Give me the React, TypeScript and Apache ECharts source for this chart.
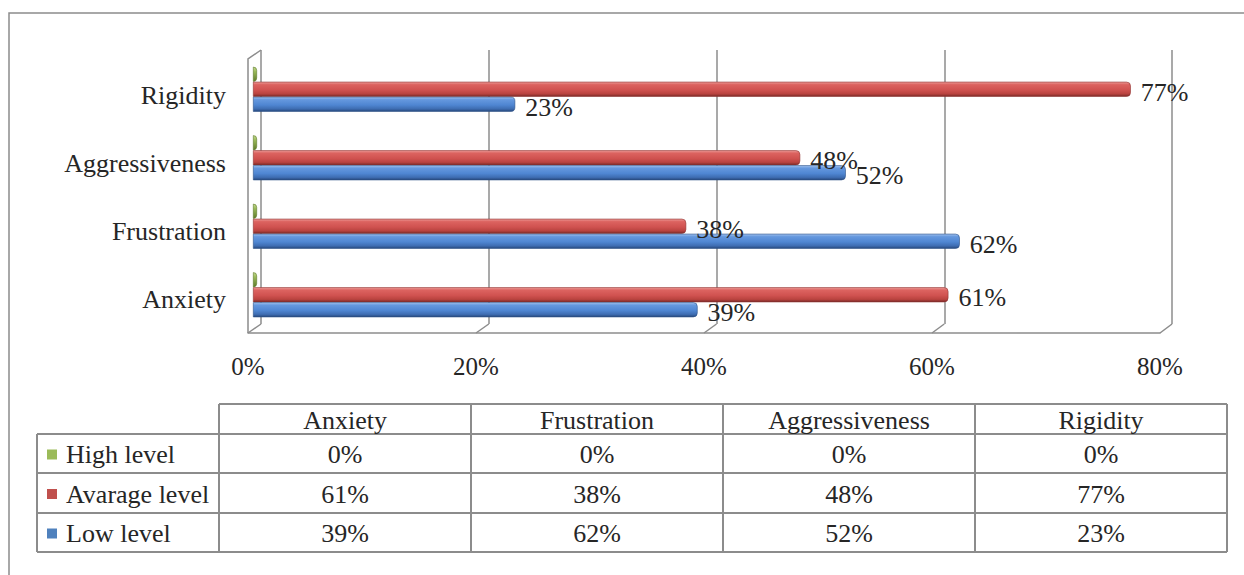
import React, { useEffect, useRef } from 'react';
import * as echarts from 'echarts';

// Survey results: share of respondents per level, by personality trait
const categories = ['Anxiety', 'Frustration', 'Aggressiveness', 'Rigidity'];
const seriesNames = ['High level', 'Avarage level', 'Low level'];
const highLevel = [0, 0, 0, 0];
const averageLevel = [61, 38, 48, 77];
const lowLevel = [39, 62, 52, 23];
const axisMin = 0;
const axisMax = 80;
const axisStep = 20;

const FONT = "'Liberation Serif', 'Times New Roman', serif";
const TEXT = '#262626';
const LINE = '#8c8c8c';
const SWATCH = ['#9BBB59', '#C0504D', '#4F81BD'];

// Pseudo-3D box: back wall and front floor edge
const WALL = { left: 261, right: 1172, top: 50, bottom: 324 };
const FRONT = { left: 248, right: 1160, bottom: 333 };
const BARS = { left: 253, right: 1165, top: 55, height: 274 };
const LABELS = { top: 61, height: 273 };

// Data table below the plot
const TABLE = {
  legendLeft: 37,
  left: 219,
  right: 1227,
  top: 404,
  headerBottom: 434,
  rowBottoms: [473, 513, 552],
};

const grad = (stops: [number, string][]) =>
  new echarts.graphic.LinearGradient(
    0, 0, 0, 1,
    stops.map(([offset, color]) => ({ offset, color }))
  );

const fills = [
  grad([[0, '#C5DA92'], [0.3, '#9BBB59'], [1, '#5E7A2A']]),
  grad([[0, '#EC9B98'], [0.18, '#DC6360'], [0.55, '#D05250'], [0.82, '#B9433F'], [1, '#7A2B28']]),
  grad([[0, '#A2C2EE'], [0.18, '#6598DE'], [0.55, '#4F86D2'], [0.82, '#3E6DB2'], [1, '#27487C']]),
];
const edges = ['#5E7A2A', '#8E3330', '#2E5288'];

function tableGraphic(): any[] {
  const els: any[] = [];
  const colW = (TABLE.right - TABLE.left) / categories.length;
  const stroke = { stroke: LINE, lineWidth: 2 };
  const line = (x1: number, y1: number, x2: number, y2: number) => ({
    type: 'line',
    shape: { x1, y1, x2, y2 },
    style: stroke,
  });
  const text = (x: number, y: number, s: string, align: string) => ({
    type: 'text',
    x,
    y,
    style: {
      text: s,
      fontSize: 26,
      fontFamily: FONT,
      fill: TEXT,
      align,
      textAlign: align,
      verticalAlign: 'middle',
      textVerticalAlign: 'middle',
    },
  });
  const bottom = TABLE.rowBottoms[TABLE.rowBottoms.length - 1];
  // horizontal rules
  els.push(line(TABLE.left, TABLE.top, TABLE.right, TABLE.top));
  els.push(line(TABLE.legendLeft, TABLE.headerBottom, TABLE.right, TABLE.headerBottom));
  TABLE.rowBottoms.forEach((y) => els.push(line(TABLE.legendLeft, y, TABLE.right, y)));
  // vertical rules
  els.push(line(TABLE.legendLeft, TABLE.headerBottom, TABLE.legendLeft, bottom));
  for (let i = 0; i <= categories.length; i++) {
    const x = TABLE.left + i * colW;
    els.push(line(x, TABLE.top, x, bottom));
  }
  // header
  categories.forEach((c, i) => {
    els.push(text(TABLE.left + colW * (i + 0.5), (TABLE.top + TABLE.headerBottom) / 2 + 1, c, 'center'));
  });
  // rows
  const rows = [highLevel, averageLevel, lowLevel];
  rows.forEach((vals, r) => {
    const top = r === 0 ? TABLE.headerBottom : TABLE.rowBottoms[r - 1];
    const cy = (top + TABLE.rowBottoms[r]) / 2 + 1;
    els.push({
      type: 'rect',
      shape: { x: TABLE.legendLeft + 10, y: cy - 5, width: 10, height: 10 },
      style: { fill: SWATCH[r] },
    });
    els.push(text(TABLE.legendLeft + 29, cy, seriesNames[r], 'left'));
    vals.forEach((v, i) => {
      els.push(text(TABLE.left + colW * (i + 0.5), cy, `${v}%`, 'center'));
    });
  });
  return els;
}

function frameGraphic(chart: echarts.ECharts): any[] {
  const els: any[] = [];
  const stroke = { stroke: LINE, lineWidth: 1.5, fill: 'none' };
  // outer chart border
  els.push({
    type: 'rect',
    shape: { x: 9, y: 13, width: 1300, height: 700 },
    style: { stroke: LINE, lineWidth: 1.5, fill: 'none' },
    z: -10,
  });
  // left side wall
  els.push({
    type: 'polyline',
    shape: {
      points: [
        [WALL.left, WALL.top],
        [FRONT.left, WALL.top + (FRONT.bottom - WALL.bottom)],
        [FRONT.left, FRONT.bottom],
      ],
    },
    style: stroke,
    z: -5,
  });
  // floor connectors at each gridline
  for (let v = axisMin; v <= axisMax; v += axisStep) {
    const xb = chart.convertToPixel({ xAxisIndex: 0 }, v) as number;
    const xf = chart.convertToPixel({ xAxisIndex: 1 }, v) as number;
    els.push({
      type: 'line',
      shape: { x1: xb, y1: WALL.bottom, x2: xf, y2: FRONT.bottom },
      style: stroke,
      z: -5,
    });
  }
  return els;
}

export default function App() {
  const ref = useRef<HTMLDivElement>(null);

  useEffect(() => {
    document.body.style.margin = '0';
    if (!ref.current) return;
    const chart = echarts.init(ref.current, undefined, { renderer: 'svg' });

    const hiddenValue = (gridIndex: number) => ({
      type: 'value',
      gridIndex,
      min: axisMin,
      max: axisMax,
      interval: axisStep,
      show: false,
    });

    const option: any = {
      animation: false,
      backgroundColor: '#ffffff',
      textStyle: { fontFamily: FONT },
      grid: [
        // back wall (gridlines)
        { left: WALL.left, top: WALL.top, width: WALL.right - WALL.left, height: WALL.bottom - WALL.top },
        // front floor edge with tick labels
        { left: FRONT.left, top: WALL.top, width: FRONT.right - FRONT.left, height: FRONT.bottom - WALL.top },
        // bars
        { left: BARS.left, top: BARS.top, width: BARS.right - BARS.left, height: BARS.height },
        // category labels
        { left: BARS.left, top: LABELS.top, width: BARS.right - BARS.left, height: LABELS.height },
      ],
      xAxis: [
        {
          type: 'value',
          gridIndex: 0,
          min: axisMin,
          max: axisMax,
          interval: axisStep,
          axisLine: { show: false },
          axisTick: { show: false },
          axisLabel: { show: false },
          splitLine: { show: true, lineStyle: { color: LINE, width: 1.5 } },
        },
        {
          type: 'value',
          gridIndex: 1,
          min: axisMin,
          max: axisMax,
          interval: axisStep,
          axisLine: { show: true, lineStyle: { color: LINE, width: 1.5 } },
          axisTick: { show: false },
          splitLine: { show: false },
          axisLabel: {
            show: true,
            formatter: '{value}%',
            fontSize: 25,
            fontFamily: FONT,
            color: TEXT,
            margin: 21,
          },
        },
        hiddenValue(2),
        hiddenValue(3),
      ],
      yAxis: [
        { type: 'value', gridIndex: 0, show: false },
        { type: 'value', gridIndex: 1, show: false },
        {
          type: 'category',
          gridIndex: 2,
          data: categories,
          axisLine: { show: false },
          axisTick: { show: false },
          axisLabel: { show: false },
        },
        {
          type: 'category',
          gridIndex: 3,
          data: categories,
          axisLine: { show: false },
          axisTick: { show: false },
          axisLabel: {
            show: true,
            fontSize: 26,
            fontFamily: FONT,
            color: TEXT,
            margin: 27,
          },
        },
      ],
      series: [highLevel, averageLevel, lowLevel].map((data, i) => ({
        name: seriesNames[i],
        type: 'bar',
        xAxisIndex: 2,
        yAxisIndex: 2,
        data,
        barWidth: 15,
        barGap: '0%',
        barMinHeight: i === 0 ? 4 : 0,
        itemStyle: {
          color: fills[i],
          borderColor: edges[i],
          borderWidth: 0.6,
          borderRadius: [0, 4, 4, 0],
        },
        label: {
          show: i !== 0,
          position: 'right',
          distance: 10,
          offset: [0, 3],
          formatter: '{c}%',
          fontSize: 26,
          fontFamily: FONT,
          color: TEXT,
        },
        z: 3,
      })),
    };

    chart.setOption(option);
    chart.setOption({ graphic: { elements: [...frameGraphic(chart), ...tableGraphic()] } });

    return () => chart.dispose();
  }, []);

  return <div ref={ref} style={{ width: 1244, height: 575 }} />;
}
